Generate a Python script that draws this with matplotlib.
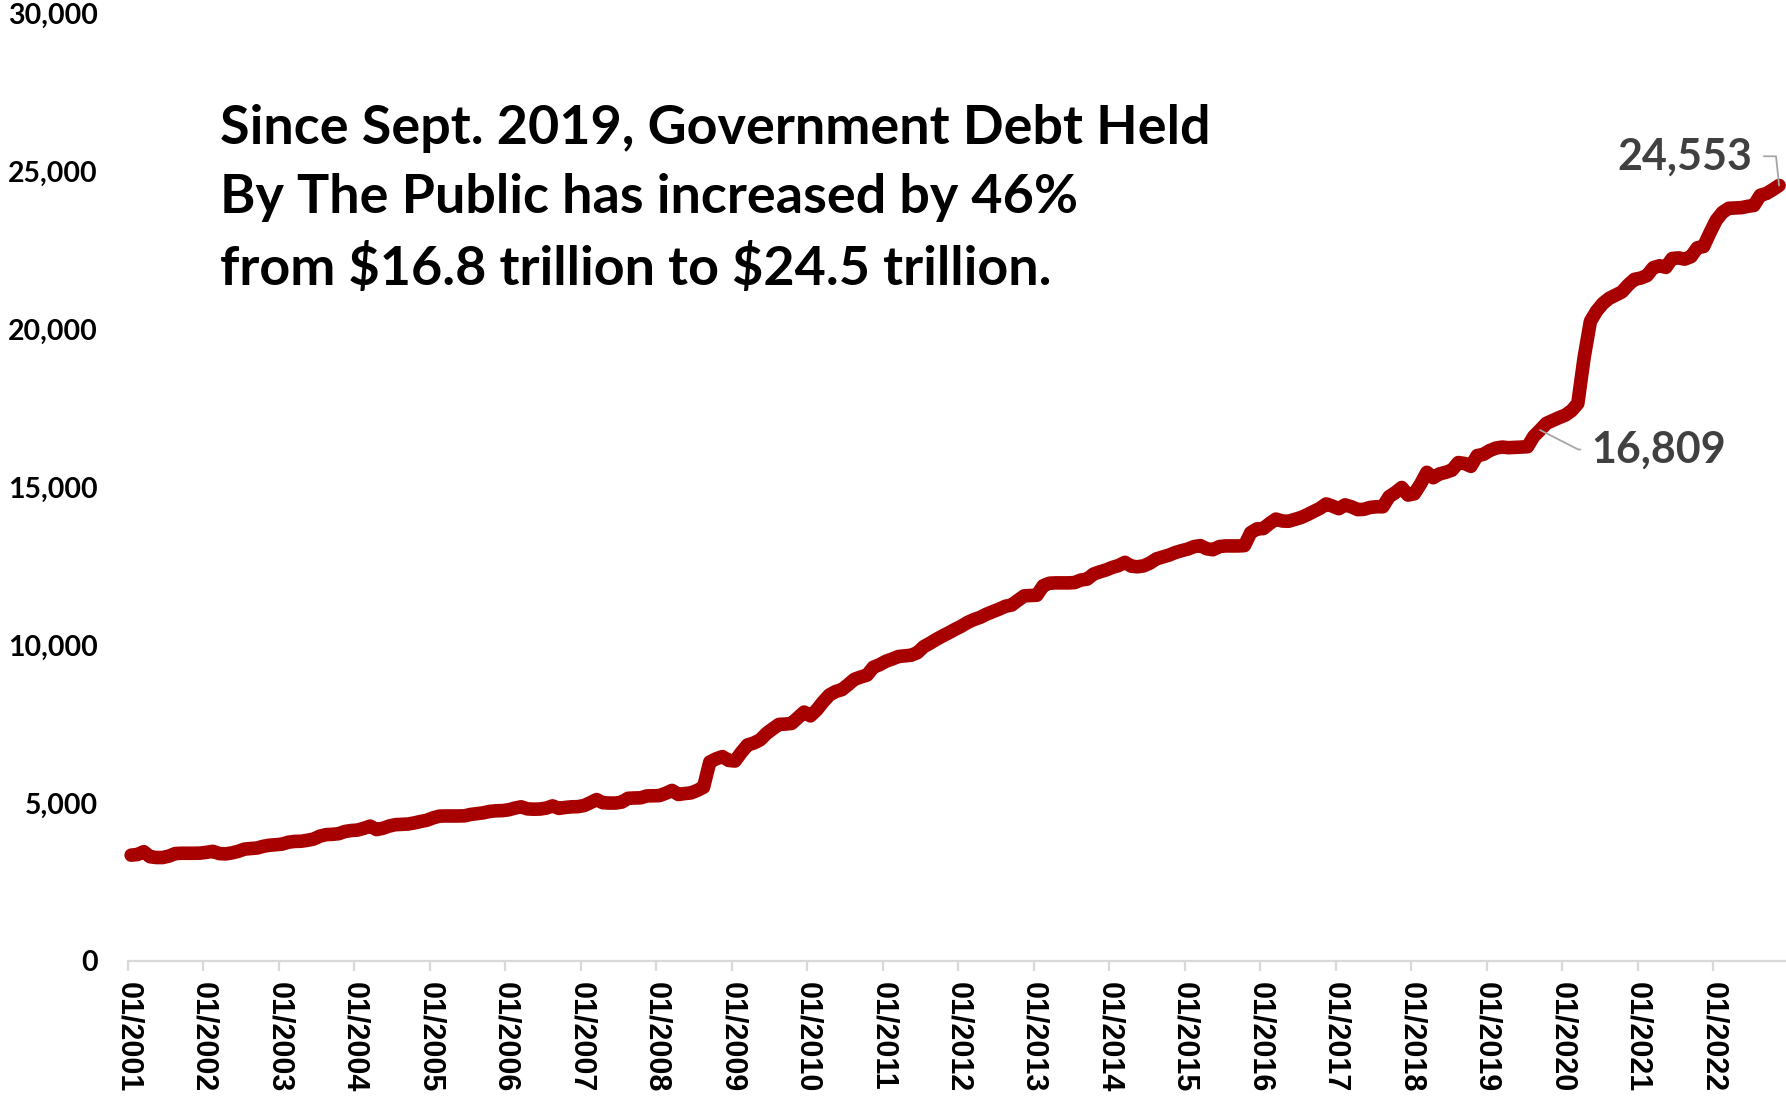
import numpy as np
import matplotlib
matplotlib.use("Agg")
import matplotlib.pyplot as plt
from matplotlib.ticker import FuncFormatter

# Government debt held by the public, monthly, $ billions (Jan 2001 - Nov 2022)
debt_2001 = [3350, 3370, 3460, 3300, 3275, 3275, 3320, 3400, 3410, 3410, 3410, 3415]
debt_2002 = [3440, 3470, 3400, 3390, 3420, 3470, 3540, 3560, 3575, 3630, 3665, 3680]
debt_2003 = [3700, 3760, 3785, 3790, 3820, 3860, 3950, 4000, 4010, 4030, 4100, 4130]
debt_2004 = [4145, 4200, 4270, 4160, 4200, 4270, 4315, 4325, 4335, 4370, 4415, 4455]
debt_2005 = [4530, 4585, 4590, 4590, 4590, 4595, 4640, 4665, 4690, 4735, 4755, 4760]
debt_2006 = [4785, 4840, 4880, 4815, 4805, 4810, 4840, 4910, 4830, 4860, 4880, 4885]
debt_2007 = [4920, 5010, 5110, 5010, 5000, 5000, 5030, 5150, 5160, 5165, 5225, 5230]
debt_2008 = [5235, 5310, 5400, 5270, 5300, 5320, 5400, 5500, 6300, 6400, 6470, 6350]
debt_2009 = [6330, 6600, 6840, 6900, 7000, 7200, 7350, 7490, 7500, 7520, 7700, 7880]
debt_2010 = [7760, 7950, 8200, 8420, 8530, 8590, 8750, 8920, 8990, 9050, 9300, 9380]
debt_2011 = [9490, 9560, 9640, 9660, 9680, 9760, 9950, 10060, 10180, 10290, 10390, 10500]
debt_2012 = [10600, 10720, 10810, 10880, 10980, 11060, 11140, 11230, 11270, 11420, 11560, 11570]
debt_2013 = [11580, 11880, 11960, 11970, 11970, 11970, 11980, 12060, 12090, 12250, 12320, 12380]
debt_2014 = [12460, 12520, 12620, 12500, 12480, 12510, 12600, 12730, 12790, 12850, 12930, 12990]
debt_2015 = [13040, 13120, 13150, 13050, 13020, 13120, 13140, 13140, 13140, 13150, 13560, 13680]
debt_2016 = [13690, 13850, 13990, 13930, 13920, 13980, 14040, 14130, 14230, 14330, 14470, 14400]
debt_2017 = [14320, 14440, 14380, 14290, 14300, 14360, 14380, 14380, 14700, 14830, 14990, 14750]
debt_2018 = [14790, 15100, 15470, 15300, 15420, 15470, 15540, 15780, 15750, 15660, 16000, 16040]
debt_2019 = [16160, 16240, 16270, 16250, 16260, 16270, 16280, 16610, 16809, 17020, 17110, 17200]
debt_2020 = [17280, 17420, 17650, 19100, 20250, 20580, 20820, 20980, 21080, 21180, 21400, 21580]
debt_2021 = [21620, 21700, 21950, 22010, 21960, 22240, 22260, 22220, 22300, 22580, 22620, 23050]
debt_2022 = [23450, 23700, 23830, 23840, 23850, 23890, 23920, 24240, 24300, 24420, 24553]

debt = (debt_2001 + debt_2002 + debt_2003 + debt_2004 + debt_2005 + debt_2006
        + debt_2007 + debt_2008 + debt_2009 + debt_2010 + debt_2011 + debt_2012
        + debt_2013 + debt_2014 + debt_2015 + debt_2016 + debt_2017 + debt_2018
        + debt_2019 + debt_2020 + debt_2021 + debt_2022)

years = list(range(2001, 2023))
tick_labels = [f"01/{y}" for y in years]

title_text = ("Since Sept. 2019, Government Debt Held\n"
              "By The Public has increased by 46%\n"
              "from \\$16.8 trillion to \\$24.5 trillion.")

sept_2019 = 12 * (2019 - 2001) + 8

# month positions, each point centred in its month slot
months = np.arange(len(debt)) + 0.5

fig = plt.figure(figsize=(17.86, 10.98), dpi=100)
ax = fig.add_axes([128 / 1786, 0.1248, 1 - 128 / 1786, 0.863])

ax.plot(months, debt, color="#a80000", lw=9.8, solid_capstyle="round",
        solid_joinstyle="round", clip_on=False, zorder=3)

ax.set_xlim(0, 263.6)
ax.set_ylim(0, 30000)
ax.set_yticks(range(0, 30001, 5000))
ax.yaxis.set_major_formatter(FuncFormatter(lambda v, p: f"{int(v):,}"))
ax.set_xticks([12 * i for i in range(len(years))])
ax.set_xticklabels(tick_labels, rotation=-90, fontfamily="Liberation Sans",
                   fontweight="bold", fontsize=22)

for lab in ax.get_yticklabels():
    lab.set_fontfamily("Lato")
    lab.set_fontweight("bold")
    lab.set_fontsize(20.5)

for side in ["top", "right", "left"]:
    ax.spines[side].set_visible(False)
ax.spines["bottom"].set_color("#d9d9d9")
ax.spines["bottom"].set_linewidth(1.6)
ax.tick_params(axis="x", length=7, width=1.6, color="#d9d9d9", pad=8)
ax.tick_params(axis="y", length=0, pad=22)

fig.text(220 / 1786, 1 - 104 / 1098, title_text, fontfamily="Lato",
         fontweight="bold", fontsize=38.8, va="top", ha="left", linespacing=1.5)

label_style = dict(fontfamily="Lato", fontweight="bold", fontsize=31,
                   color="#404040", textcoords="offset points")

ax.annotate(f"{debt[-1]:,}", xy=(months[-1], debt[-1]), xytext=(-19, 21),
            ha="right", va="center",
            arrowprops=dict(arrowstyle="-", color="#a6a6a6", lw=1.3,
                            shrinkA=6, shrinkB=0,
                            connectionstyle="angle,angleA=0,angleB=96,rad=0"),
            **label_style)
ax.annotate(f"{debt[sept_2019]:,}", xy=(months[sept_2019], debt[sept_2019]),
            xytext=(37, -14), ha="left", va="center",
            arrowprops=dict(arrowstyle="-", color="#a6a6a6", lw=1.3,
                            shrinkA=6, shrinkB=0,
                            connectionstyle="angle,angleA=0,angleB=-27,rad=0"),
            **label_style)

fig.savefig("out.png", dpi=100)
